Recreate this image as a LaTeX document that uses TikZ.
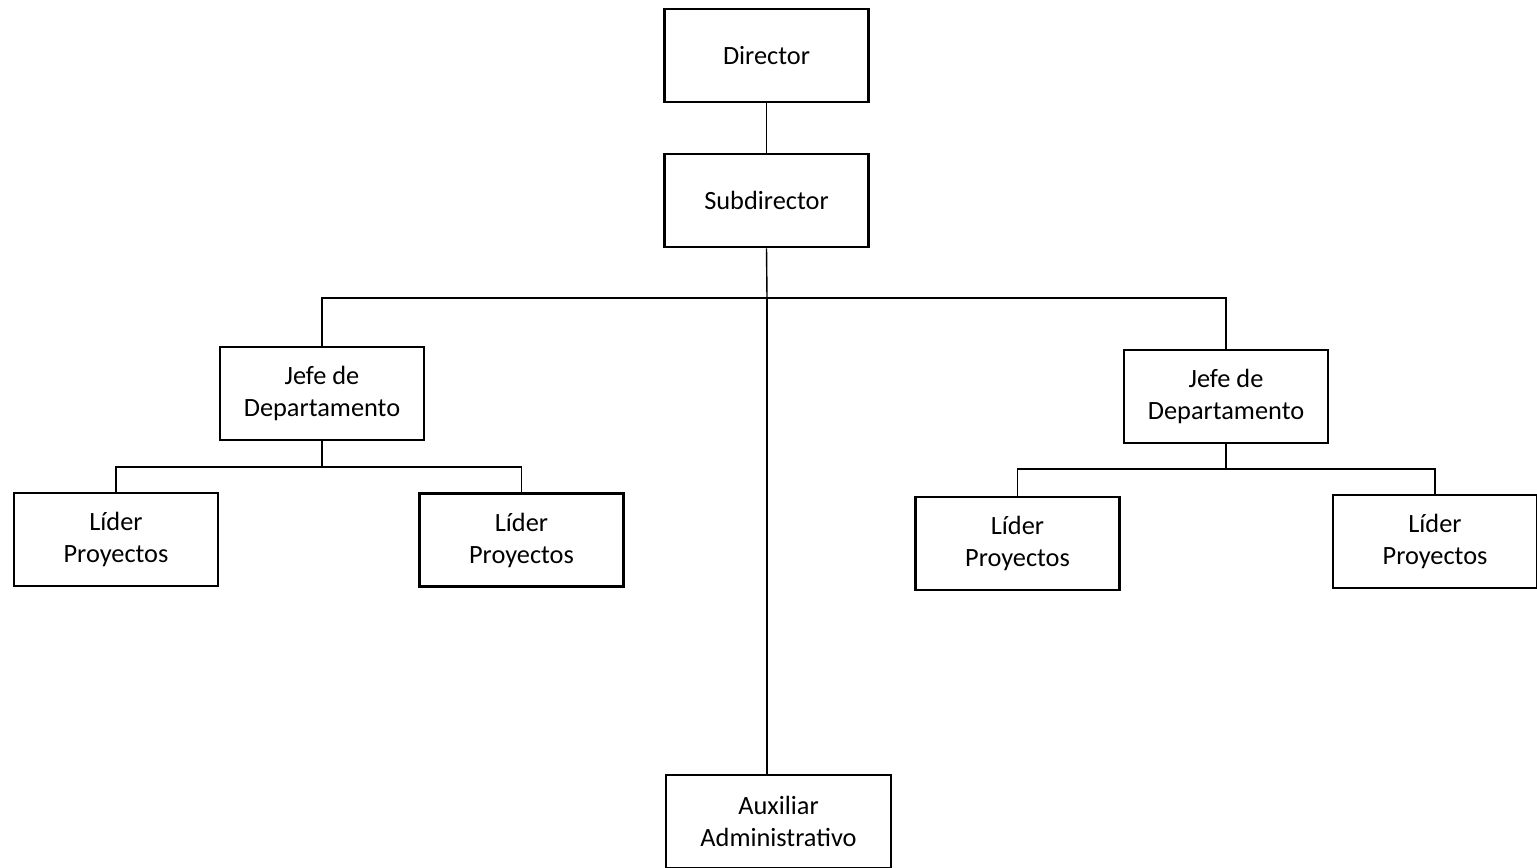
\documentclass[tikz,border=0pt]{standalone}
\usepackage{fontspec}
\setmainfont{Carlito}
\usepackage{tikz}
\tikzstyle{cargo}=[draw, line width=1.5pt, align=center, inner sep=0pt, minimum width=4.08cm, minimum height=1.86cm, font=\fontsize{15}{18.2}\selectfont]
\tikzstyle{wide}=[cargo, minimum width=4.5cm]
\tikzstyle{link}=[draw=black, line width=0.8pt]

\begin{document}
\begin{tikzpicture}[x=0.02cm, y=-0.02cm]
		   \useasboundingbox (0,0) rectangle (1537,867);
		   \begin{scope}
			   \node (dir) at (766.5, 55.5)[cargo] {Director};
			   \node (sub) at (766.5, 200.5)[cargo] {Subdirector};
			   \node (jefeA) at (322, 393.5)[cargo] {Jefe de\\Departamento};
			   \node (jefeB) at (1226, 396.5)[cargo] {Jefe de\\Departamento};
			   \node (lidA) at (116, 539.5)[cargo] {Líder\\Proyectos};
			   \node (lidB) at (521.5, 540)[cargo] {Líder\\Proyectos};
			   \node (lidC) at (1017.5, 543.5)[cargo] {Líder\\Proyectos};
			   \node (lidD) at (1435, 541.5)[cargo] {Líder\\Proyectos};
			   \node (aux) at (778.5, 821.5)[wide] {Auxiliar\\Administrativo};
			   \coordinate (barS) at (767, 298);
			   \coordinate (barA) at (322, 467);
			   \coordinate (barB) at (1226, 469);
		   \end{scope}
		   \begin{scope}
			   \path [link] (dir) -- (sub);
			   \path [link] (sub.south) -- (barS);
			   \path [link] (barS) -| (jefeA.north);
			   \path [link] (barS) -| (jefeB.north);
			   \path [link] (barS) -- (barS |- aux.north);
			   \path [link] (jefeA.south) -- (barA);
			   \path [link] (barA) -| (lidA.north);
			   \path [link] (barA) -| (lidB.north);
			   \path [link] (jefeB.south) -- (barB);
			   \path [link] (barB) -| (lidC.north);
			   \path [link] (barB) -| (lidD.north);
		   \end{scope}
	   \end{tikzpicture}
\end{document}
